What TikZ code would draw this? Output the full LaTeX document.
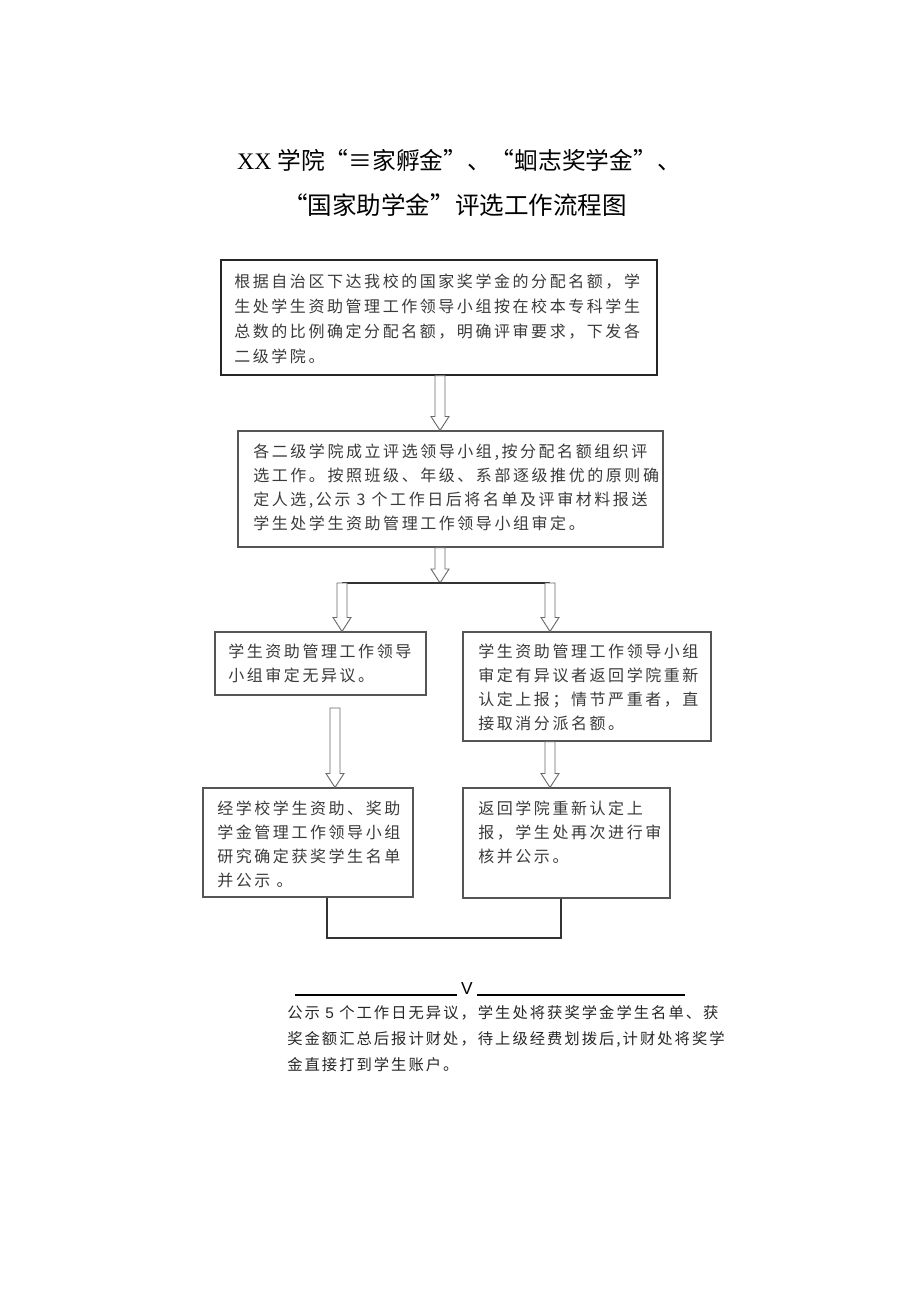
\documentclass[tikz,border=0pt]{standalone}
\usepackage{fontspec}
\setmainfont{Liberation Serif}
\newfontfamily\cjk{Noto Sans CJK SC}
\newfontfamily\cjkbox[LetterSpace=16]{Noto Sans CJK SC}
\newfontfamily\cjkbot[LetterSpace=13]{Noto Sans CJK SC}
\newfontfamily\arialf{Liberation Sans}
\usetikzlibrary{fit,calc}
\definecolor{boxgray}{HTML}{555555}
\definecolor{textgray}{HTML}{3A3A3A}
\definecolor{arrgray}{HTML}{6A6A6A}
\newcommand\hollowarrow[2]{%
 \path[harr] let \p1=(#1), \p2=(#2) in
 (\x1-3.75pt,\y1) -- (\x1-3.75pt,\y2+10.5pt) -- (\x1-6.75pt,\y2+10.5pt) -- (\x1,\y2) --
 (\x1+6.75pt,\y2+10.5pt) -- (\x1+3.75pt,\y2+10.5pt) -- (\x1+3.75pt,\y1) -- cycle;}
\begin{document}
\begin{tikzpicture}[x=0.75pt,y=-0.75pt,
  box/.style={draw=boxgray, line width=0.8pt, inner sep=0pt},
  txt/.style={anchor=north west, inner sep=0pt, align=left, text=textgray,
    font=\cjkbox\fontsize{12pt}{18pt}\selectfont},
  harr/.style={draw=arrgray, line width=0.7pt, fill=white},
  conn/.style={draw=black!80, line width=1pt}]
\useasboundingbox (0,0) rectangle (920,1301);
% title
\node[font=\fontsize{17.8pt}{22pt}\selectfont] (t1) at (459,160) {XX {\cjk 学院“≡家孵金”、“蛔志奖学金”、}};
\node[font=\cjk\fontsize{18.4pt}{22pt}\selectfont] (t2) at (455,205) {“国家助学金”评选工作流程图};
% boxes
\node[box, draw=black!85, line width=1.1pt, fit={(221,260) (657,375)}] (b1) {};
\node[box, fit={(238,431) (663,547)}] (b2) {};
\node[box, fit={(215,632) (426,695)}] (b3l) {};
\node[box, fit={(463,632) (711,741)}] (b3r) {};
\node[box, fit={(203,788) (413,897)}] (b4l) {};
\node[box, fit={(463,788) (670,898)}] (b4r) {};
% texts
\node[txt, font=\cjkbox\fontsize{12pt}{18.75pt}\selectfont] (x1) at (234,274) {根据自治区下达我校的国家奖学金的分配名额，学\\生处学生资助管理工作领导小组按在校本专科学生\\总数的比例确定分配名额，明确评审要求，下发各\\二级学院。};
\node[txt] (x2) at (253,444) {各二级学院成立评选领导小组,按分配名额组织评\\选工作。按照班级、年级、系部逐级推优的原则确\\定人选,公示 3 个工作日后将名单及评审材料报送\\学生处学生资助管理工作领导小组审定。};
\node[txt] (x3l) at (228,644) {学生资助管理工作领导\\小组审定无异议。};
\node[txt] (x3r) at (478,644) {学生资助管理工作领导小组\\审定有异议者返回学院重新\\认定上报；情节严重者，直\\接取消分派名额。};
\node[txt] (x4l) at (217,801) {经学校学生资助、奖助\\学金管理工作领导小组\\研究确定获奖学生名单\\并公示 。};
\node[txt] (x4r) at (478,801) {返回学院重新认定上\\报，学生处再次进行审\\核并公示。};
% coordinates
\coordinate (sL) at (342,583);
\coordinate (sM) at (440,583);
\coordinate (sR) at (550,583);
\coordinate (c5) at (335,708);
\coordinate (jL) at (327,938);
\coordinate (jR) at (561,938);
% arrows
\hollowarrow{b1.south -| sM}{b2.north -| sM}
\hollowarrow{b2.south -| sM}{sM}
\draw[conn] (sL) -- (sR);
\hollowarrow{sL}{b3l.north -| sL}
\hollowarrow{sR}{b3r.north -| sR}
\hollowarrow{c5}{b4l.north -| c5}
\hollowarrow{b3r.south -| sR}{b4r.north -| sR}
\draw[conn] (b4l.south -| jL) -- (jL) -- (jR) -- (b4r.south -| jR);
% bottom
\node[font=\arialf\fontsize{13pt}{13pt}\selectfont, inner sep=3pt] (V) at (467,989) {V};
\coordinate (uL) at (295,995);
\coordinate (uR) at (685,995);
\draw[line width=0.8pt] (uL) -- (uL -| V.west);
\draw[line width=0.8pt] (V.east |- uR) -- (uR);
\node[txt, text=black!85, font=\cjkbot\fontsize{11.5pt}{19.5pt}\selectfont] (x5) at (287,1005) {公示 {\arialf 5} 个工作日无异议，学生处将获奖学金学生名单、获\\奖金额汇总后报计财处，待上级经费划拨后,计财处将奖学\\金直接打到学生账户。};
\end{tikzpicture}
\end{document}
